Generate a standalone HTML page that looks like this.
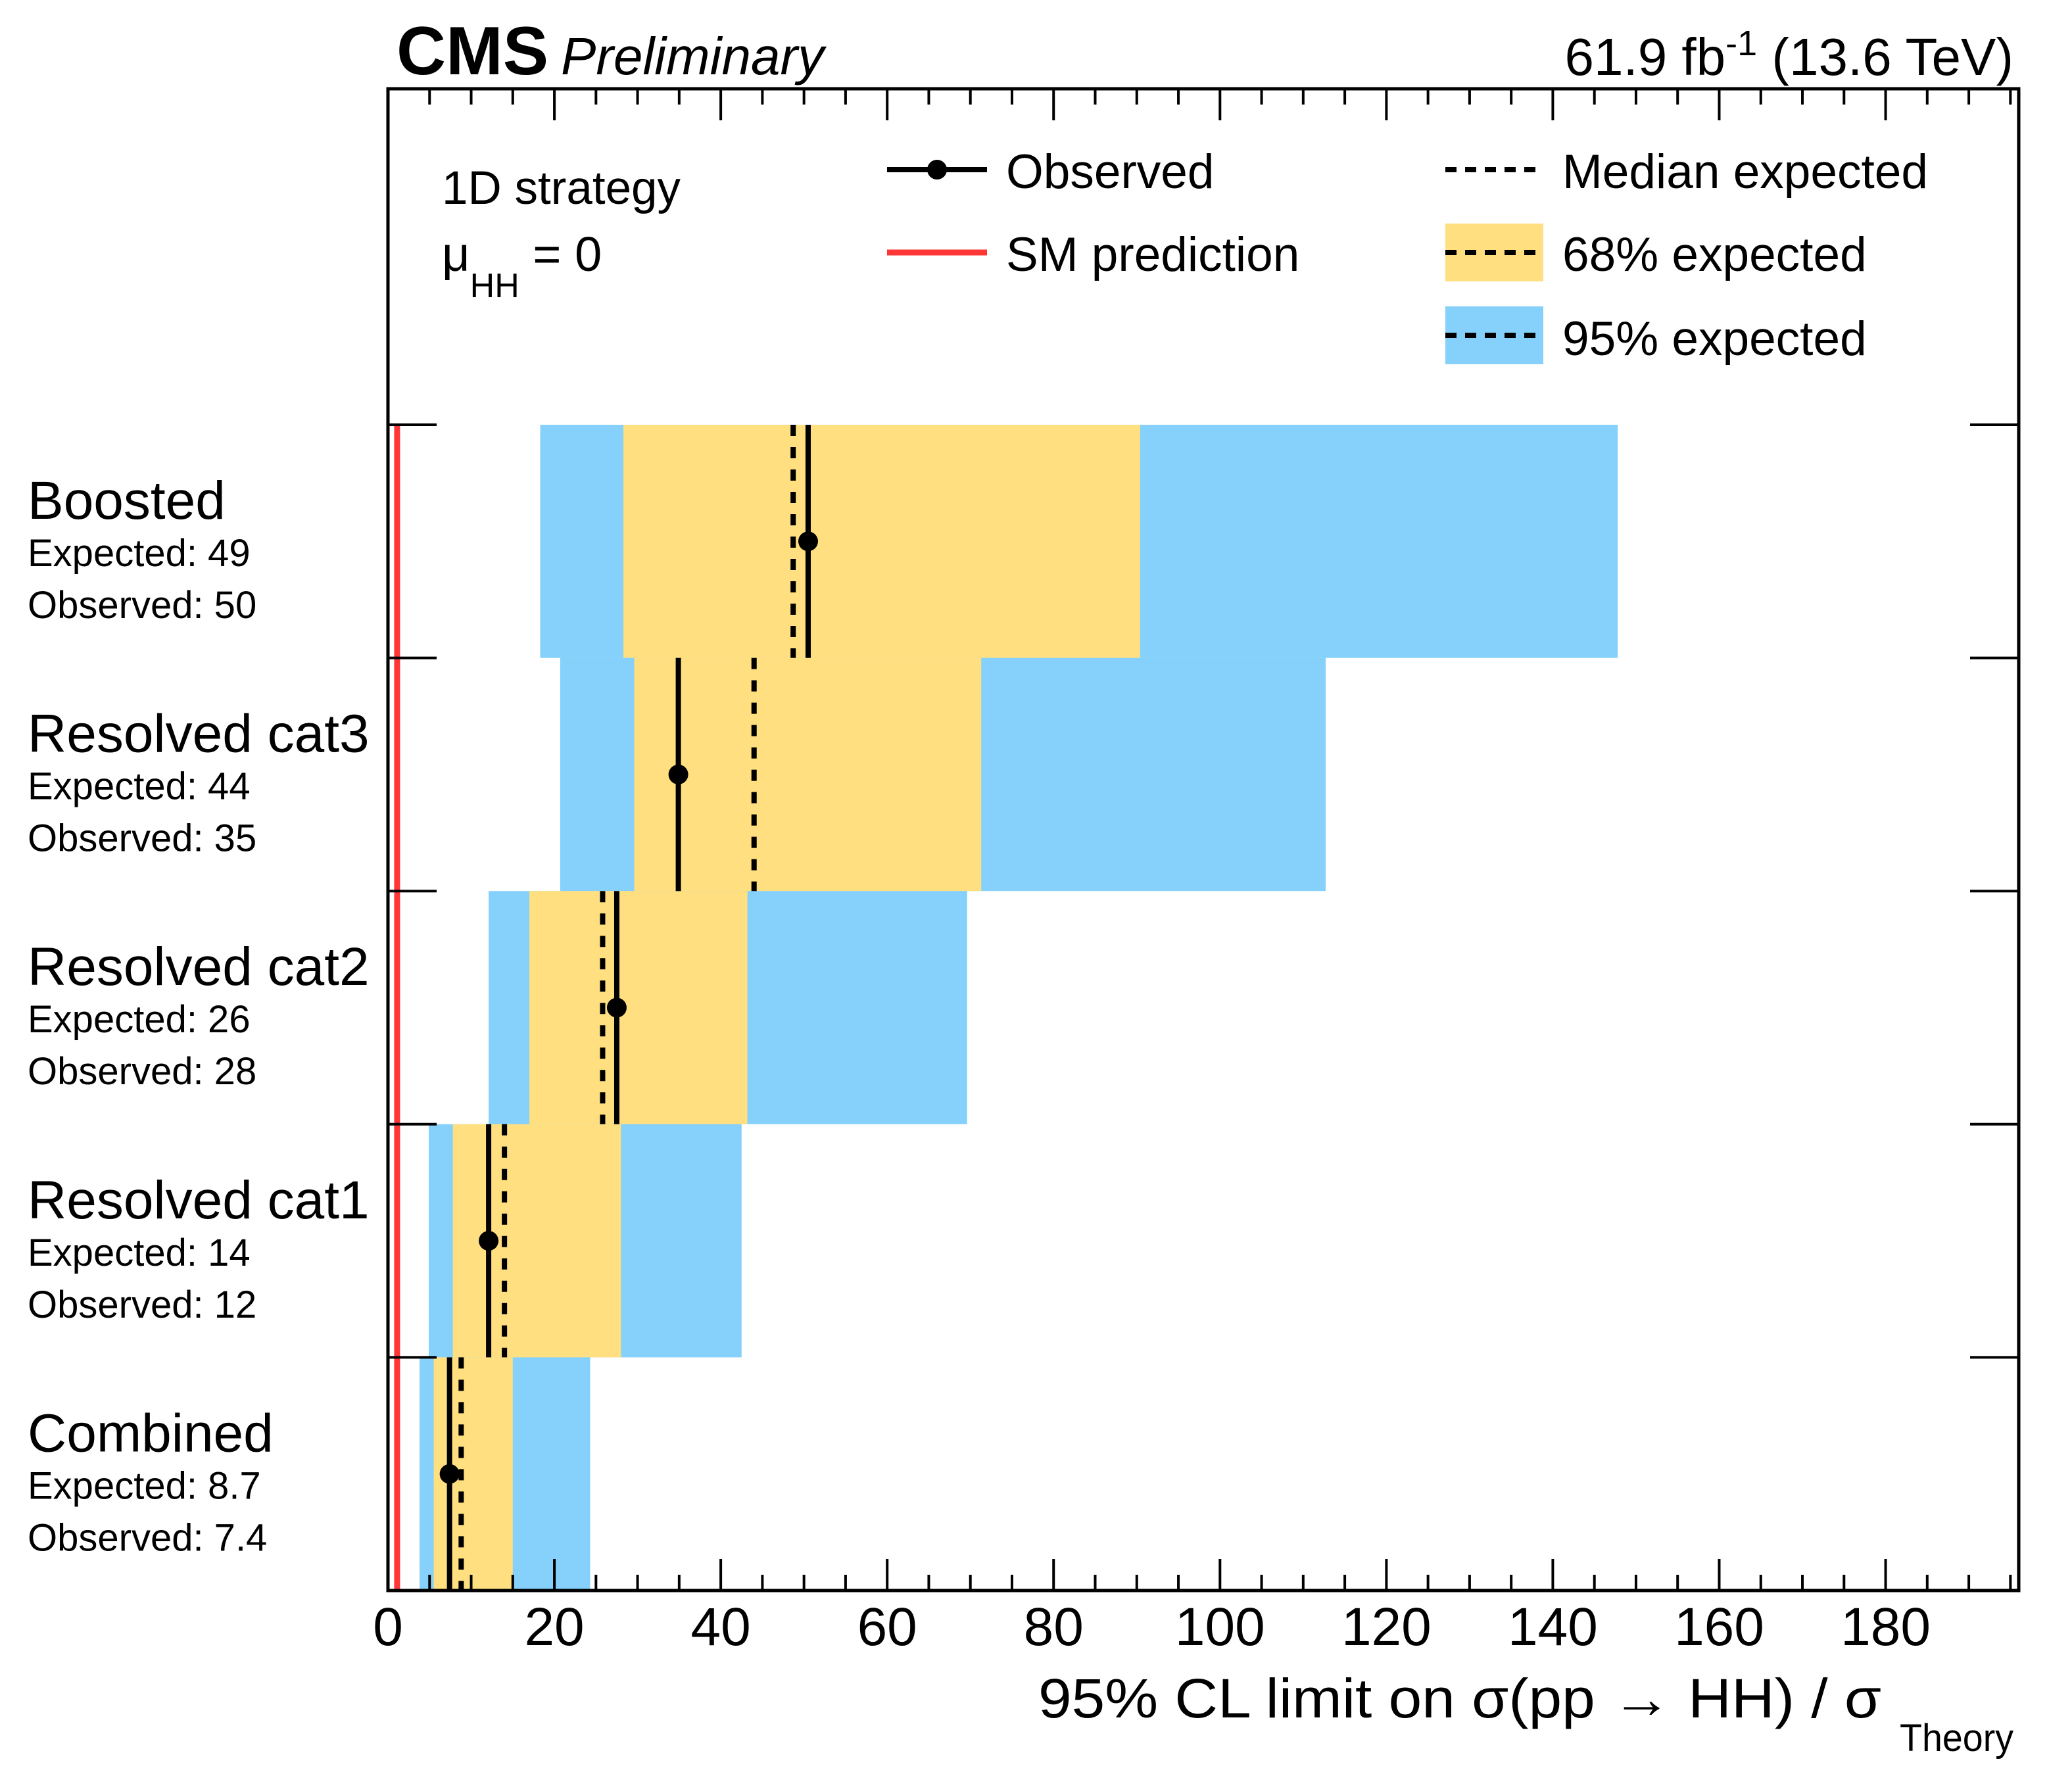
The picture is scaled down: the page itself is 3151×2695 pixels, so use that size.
<!DOCTYPE html>
<html><head><meta charset="utf-8"><style>
html,body{margin:0;padding:0;background:#fff;}
svg{display:block;font-family:"Liberation Sans",Arial,sans-serif;}
</style></head><body>
<svg id="chart" width="3151" height="2695" viewBox="0 0 3151 2695" xmlns="http://www.w3.org/2000/svg">
<g id="bands"></g>
<g id="marks"></g>
<g id="axes"></g>
<g id="labels"></g>
<text x="603" y="113" font-size="104" font-weight="bold">CMS</text>
<text x="853" y="113" font-size="80" font-style="italic">Preliminary</text>
<text x="3062" y="114" font-size="80" text-anchor="end">61.9 fb<tspan dy="-30" font-size="54">-1</tspan><tspan dy="30"> (13.6 TeV)</tspan></text>
<text x="672" y="310" font-size="71">1D strategy</text>
<text x="672" y="412" font-size="74">μ<tspan dy="40" font-size="52">HH</tspan><tspan dy="-40"> = 0</tspan></text>
<g>
<g>
<line x1="1349" y1="258" x2="1501" y2="258" stroke="#000" stroke-width="8"/>
<circle cx="1425" cy="258" r="15" fill="#000"/>
<text x="1530" y="286" font-size="73">Observed</text></g>
<g>
<line x1="1349" y1="384" x2="1501" y2="384" stroke="#ff3636" stroke-width="9"/>
<text x="1530" y="412" font-size="73">SM prediction</text></g>
<g>
<line x1="2198" y1="258" x2="2347" y2="258" stroke="#000" stroke-width="8" stroke-dasharray="17 13"/>
<text x="2376" y="286" font-size="73">Median expected</text></g>
<g>
<rect x="2198" y="340" width="149" height="88" fill="#ffdf7f"/>
<line x1="2198" y1="384" x2="2347" y2="384" stroke="#000" stroke-width="8" stroke-dasharray="17 13"/>
<text x="2376" y="412" font-size="73">68% expected</text></g>
<g>
<rect x="2198" y="466" width="149" height="88" fill="#85d1fb"/>
<line x1="2198" y1="510" x2="2347" y2="510" stroke="#000" stroke-width="8" stroke-dasharray="17 13"/>
<text x="2376" y="540" font-size="73">95% expected</text></g>
</g>
<text x="1579" y="2612" font-size="84" textLength="1282" lengthAdjust="spacingAndGlyphs">95% CL limit on σ(pp → HH) / σ</text>
<text x="2889" y="2663" font-size="58" textLength="173" lengthAdjust="spacingAndGlyphs">Theory</text>
</svg>
<script>
const categories = ["Boosted","Resolved cat3","Resolved cat2","Resolved cat1","Combined"];
const expectedText = ["49","44","26","14","8.7"];
const observedText = ["50","35","28","12","7.4"];
const observed = [50.5, 34.9, 27.5, 12.1, 7.4];
const median = [48.7, 44.0, 25.8, 14.0, 8.8];
const lo95 = [18.3, 20.7, 12.1, 4.9, 3.8];
const lo68 = [28.3, 29.6, 17.0, 7.8, 5.5];
const hi68 = [90.4, 71.3, 43.2, 28.0, 15.0];
const hi95 = [147.8, 112.7, 69.6, 42.5, 24.3];
const smValue = 1.1;
const xTicks = [0,20,40,60,80,100,120,140,160,180];
const xMax = 196;

const L=590,R=3070,T=135,B=2419,rowTop=646;
const nRows = categories.length;
const rowH=(B-rowTop)/nRows;
const xs=v=>L+(v/xMax)*(R-L);
const ys=i=>rowTop+i*rowH;
const NS="http://www.w3.org/2000/svg";
function mk(tag,attrs,parent){const e=document.createElementNS(NS,tag);for(const k in attrs)e.setAttribute(k,attrs[k]);parent.appendChild(e);return e;}
const bands=document.getElementById('bands'),marks=document.getElementById('marks'),axes=document.getElementById('axes'),labels=document.getElementById('labels');
for(let i=0;i<nRows;i++){
  const y0=ys(i),y1=ys(i+1),yc=(y0+y1)/2;
  let b=mk('rect',{x:xs(lo95[i]),y:y0,width:xs(hi95[i])-xs(lo95[i]),height:rowH,fill:'#85d1fb'},bands);
  
  
  let c=mk('rect',{x:xs(lo68[i]),y:y0,width:xs(hi68[i])-xs(lo68[i]),height:rowH,fill:'#ffdf7f'},bands);
  
  
  let m=mk('line',{x1:xs(median[i]),x2:xs(median[i]),y1:y0,y2:y1,stroke:'#000','stroke-width':8,'stroke-dasharray':'17 17'},marks);
  
  
  let o=mk('line',{x1:xs(observed[i]),x2:xs(observed[i]),y1:y0,y2:y1,stroke:'#000','stroke-width':8},marks);
  
  
  let p=mk('circle',{cx:xs(observed[i]),cy:yc,r:15,fill:'#000'},marks);
  
  
  let t1=mk('text',{x:42,y:y0+143,'font-size':82},labels);t1.textContent=categories[i];
  
  
  let t2=mk('text',{x:42,y:y0+215,'font-size':58},labels);t2.textContent='Expected: '+expectedText[i];
  
  
  let t3=mk('text',{x:42,y:y0+294,'font-size':58},labels);t3.textContent='Observed: '+observedText[i];
  
  
}
for(let i=0;i<nRows;i++){
  const y0=ys(i);
  let tl=mk('line',{x1:L,x2:L+74,y1:y0,y2:y0,stroke:'#000','stroke-width':4},axes);
  
  
  let tr=mk('line',{x1:R-74,x2:R,y1:y0,y2:y0,stroke:'#000','stroke-width':4},axes);
  
  
}
let sm=mk('line',{x1:xs(smValue),x2:xs(smValue),y1:rowTop,y2:B,stroke:'#ff3636','stroke-width':9},marks);


for(let v=0;v<=xMax;v+=5){
  const major=v%20===0,len=major?48:24,x=xs(v);
  let a=mk('line',{x1:x,x2:x,y1:B,y2:B-len,stroke:'#000','stroke-width':4},axes);
  
  
  let b2=mk('line',{x1:x,x2:x,y1:T,y2:T+len,stroke:'#000','stroke-width':4},axes);
  
  
}
xTicks.forEach(v=>{
  let t=mk('text',{x:xs(v),y:2502,'font-size':82,'text-anchor':'middle'},axes);t.textContent=String(v);
  
  
});
let fr=mk('rect',{x:L,y:T,width:R-L,height:B-T,fill:'none',stroke:'#000','stroke-width':5},axes);


</script>
</body></html>
